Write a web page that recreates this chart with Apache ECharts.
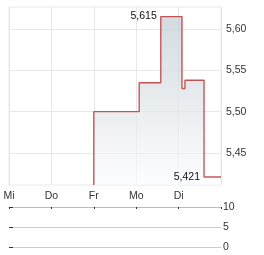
<!DOCTYPE html>
<html><head><meta charset="utf-8">
<script src="https://cdn.jsdelivr.net/npm/echarts@6/dist/echarts.min.js"></script>
<style>html,body{margin:0;padding:0;background:#fff}#c{width:264px;height:255px}</style>
</head><body><div id="c"></div>
<script>
// Day labels (x positions 0..4, range ends at 5)
var dayLabels = ['Mi', 'Do', 'Fr', 'Mo', 'Di'];
// Price step series: [day position, price]
var priceX = [2.0, 2.0, 3.07, 3.58, 4.08, 4.15, 4.6, 5.0];
var priceY = [5.4113, 5.50, 5.535, 5.615, 5.528, 5.538, 5.421, 5.421];
var priceTicks = [5.45, 5.50, 5.55, 5.60];
var yMin = 5.4113, yMax = 5.6266;
var volTicks = [0, 5, 10];
var hiLabel = {x: 3.58, y: 5.615, text: '5,615'};
var loLabel = {x: 4.6, y: 5.421, text: '5,421'};

var font = 'Liberation Sans, Arial, sans-serif';
var data = priceX.map(function (x, i) { return [x, priceY[i]]; });
var chart = echarts.init(document.getElementById('c'), null, {renderer: 'canvas'});
chart.setOption({
  animation: false,
  grid: [
    {left: 9, right: 43, top: 7, bottom: 70, show: true, borderColor: '#e8e8e8', borderWidth: 1},
    {left: 9, right: 43, top: 207, height: 40}
  ],
  xAxis: [
    {gridIndex: 0, type: 'value', min: 0, max: 5, interval: 1,
     axisLine: {show: false}, axisTick: {show: false},
     splitLine: {show: true, lineStyle: {color: '#e8e8e8', width: 1}},
     axisLabel: {color: '#333', fontSize: 10.5, fontFamily: font, margin: 6,
       formatter: function (v) { return dayLabels[v] || ''; }}},
    {gridIndex: 1, type: 'value', min: 0, max: 5, interval: 1, position: 'top',
     axisLine: {show: true, onZero: false, lineStyle: {color: '#bbb'}},
     axisTick: {show: true, inside: true, length: 2, lineStyle: {color: '#333'}},
     splitLine: {show: false}, axisLabel: {show: false}}
  ],
  yAxis: [
    {gridIndex: 0, type: 'value', min: yMin, max: yMax, position: 'right',
     axisLine: {show: false}, axisTick: {show: false, customValues: priceTicks},
     splitLine: {show: true, lineStyle: {color: '#e8e8e8', width: 1}},
     axisLabel: {color: '#333', fontSize: 10.5, fontFamily: font, margin: 5,
       customValues: priceTicks,
       formatter: function (v) { return v.toFixed(2).replace('.', ','); }}},
    {gridIndex: 1, type: 'value', min: 0, max: 10, interval: 5, position: 'right',
     axisLine: {show: false},
     axisTick: {show: true, length: 4, lineStyle: {color: '#333'}},
     splitLine: {show: true, lineStyle: {color: '#ccc', width: 1}},
     axisLabel: {color: '#333', fontSize: 10.5, fontFamily: font, margin: 2}}
  ],
  series: [
    {type: 'line', xAxisIndex: 0, yAxisIndex: 0, data: data, step: 'end',
     symbol: 'none', clip: true,
     lineStyle: {color: 'rgba(185,45,45,0.8)', width: 1.4},
     areaStyle: {origin: 'start', color: new echarts.graphic.LinearGradient(0, 0, 0, 1, [
       {offset: 0, color: '#c1cbd3'}, {offset: 1, color: '#fbfcfd'}])},
     markPoint: {symbol: 'circle', symbolSize: 0, silent: true,
       label: {show: true, position: 'left', distance: 4, color: '#111', fontSize: 10.5, fontFamily: font,
         formatter: function (p) { return p.name; }},
       data: [
         {name: hiLabel.text, coord: [hiLabel.x, hiLabel.y]},
         {name: loLabel.text, coord: [loLabel.x, loLabel.y]}
       ]}
    }
  ]
});
</script></body></html>
